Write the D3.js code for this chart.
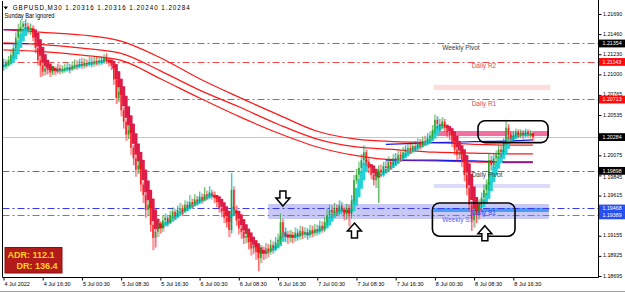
<!DOCTYPE html>
<html>
<head>
<meta charset="utf-8">
<script src="https://cdn.jsdelivr.net/npm/d3@7"></script>
<style>
  body { margin: 0; background: #fff; }
  svg { display: block; }
  text { font-family: "Liberation Sans", Arial, sans-serif; }
</style>
</head>
<body>
<svg id="chart" width="625" height="294"></svg>
<script>
// GBPUSD M30 bars (open = previous close)
const closes = [
  1.2110,1.2113,1.2116,1.2122,1.2130,1.2142,1.2151,1.2154,1.2158,1.2155,
  1.2151,1.2153,1.2142,1.2130,1.2116,1.2110,1.2103,1.2107,1.2105,1.2102,
  1.2105,1.2104,1.2107,1.2105,1.2106,1.2107,1.2108,1.2106,1.2110,1.2111,
  1.2110,1.2112,1.2111,1.2113,1.2112,1.2114,1.2113,1.2115,1.2114,1.2116,
  1.2115,1.2119,1.2116,1.2114,1.2110,1.2094,1.2073,1.2080,1.2059,1.2046,
  1.2031,1.2036,1.2016,1.2004,1.1991,1.1996,1.1974,1.1962,1.1945,1.1951,
  1.1928,1.1913,1.1920,1.1928,1.1924,1.1933,1.1936,1.1931,1.1939,1.1943,
  1.1938,1.1945,1.1947,1.1944,1.1951,1.1948,1.1954,1.1952,1.1957,1.1955,
  1.1960,1.1957,1.1963,1.1961,1.1965,1.1962,1.1959,1.1954,1.1947,1.1943,
  1.1936,1.1931,1.1922,1.1968,1.1945,1.1933,1.1924,1.1920,1.1913,1.1915,
  1.1908,1.1901,1.1905,1.1897,1.1890,1.1899,1.1895,1.1901,1.1898,1.1905,
  1.1901,1.1908,1.1911,1.1931,1.1920,1.1915,1.1913,1.1916,1.1913,1.1919,
  1.1915,1.1921,1.1918,1.1920,1.1916,1.1922,1.1919,1.1923,1.1921,1.1927,
  1.1924,1.1931,1.1939,1.1945,1.1942,1.1947,1.1943,1.1950,1.1945,1.1940,
  1.1947,1.1940,1.1956,1.1979,1.1985,1.1993,1.2002,1.2011,1.2000,1.1993,
  1.1985,1.1979,1.1984,1.1991,1.1988,1.1995,1.1993,1.2000,1.1997,1.2004,
  1.2002,1.2008,1.2006,1.2011,1.2014,1.2016,1.2014,1.2018,1.2017,1.2022,
  1.2019,1.2024,1.2023,1.2027,1.2030,1.2036,1.2048,1.2043,1.2041,1.2046,
  1.2039,1.2034,1.2031,1.2023,1.2014,1.2008,1.2011,1.2000,1.1985,1.1970,
  1.1951,1.1933,1.1943,1.1939,1.1951,1.1959,1.1968,1.1974,1.2002,1.1996,
  1.2004,1.2008,1.2014,1.2011,1.2022,1.2039,1.2031,1.2027,1.2030,1.2034,
  1.2031,1.2033,1.2031,1.2034,1.2032,1.2032,1.2028
];
const highs = [
  1.2118,1.2117,1.2121,1.2127,1.2136,1.2148,1.2158,1.2162,1.2161,1.2163,
  1.2159,1.2158,1.2156,1.2146,1.2133,1.2122,1.2114,1.2112,1.2111,1.2109,
  1.2110,1.2109,1.2112,1.2111,1.2110,1.2112,1.2114,1.2112,1.2115,1.2117,
  1.2116,1.2118,1.2119,1.2118,1.2117,1.2120,1.2119,1.2121,1.2120,1.2121,
  1.2120,1.2123,1.2124,1.2119,1.2117,1.2113,1.2097,1.2086,1.2083,1.2062,
  1.2049,1.2042,1.2039,1.2019,1.2007,1.2002,1.1999,1.1977,1.1965,1.1957,
  1.1954,1.1931,1.1926,1.1933,1.1932,1.1938,1.1941,1.1939,1.1944,1.1948,
  1.1946,1.1950,1.1953,1.1951,1.1956,1.1955,1.1962,1.1958,1.1963,1.1961,
  1.1966,1.1964,1.1971,1.1967,1.1972,1.1968,1.1966,1.1962,1.1957,1.1950,
  1.1946,1.1940,1.1934,1.1987,1.1972,1.1950,1.1937,1.1929,1.1925,1.1922,
  1.1919,1.1912,1.1911,1.1909,1.1902,1.1905,1.1903,1.1907,1.1906,1.1911,
  1.1909,1.1914,1.1918,1.1941,1.1935,1.1925,1.1921,1.1922,1.1920,1.1925,
  1.1923,1.1927,1.1926,1.1925,1.1924,1.1928,1.1927,1.1929,1.1928,1.1933,
  1.1932,1.1937,1.1946,1.1951,1.1950,1.1953,1.1951,1.1956,1.1954,1.1948,
  1.1952,1.1951,1.1962,1.1985,1.1992,1.2000,1.2009,1.2019,1.2014,1.2004,
  1.1997,1.1990,1.1990,1.1996,1.1997,1.2000,1.2001,1.2006,1.2004,1.2009,
  1.2010,1.2013,1.2012,1.2017,1.2019,1.2022,1.2021,1.2023,1.2024,1.2027,
  1.2026,1.2029,1.2030,1.2033,1.2035,1.2042,1.2054,1.2052,1.2049,1.2051,
  1.2049,1.2043,1.2038,1.2034,1.2026,1.2018,1.2017,1.2014,1.2003,1.1988,
  1.1973,1.1955,1.1948,1.1950,1.1957,1.1965,1.1974,1.1980,1.2009,1.2007,
  1.2010,1.2013,1.2019,1.2018,1.2027,1.2048,1.2043,1.2035,1.2035,1.2038,
  1.2037,1.2037,1.2036,1.2038,1.2037,1.2036,1.2032
];
const lows = [
  1.2104,1.2106,1.2109,1.2112,1.2119,1.2127,1.2139,1.2146,1.2149,1.2150,
  1.2146,1.2145,1.2138,1.2124,1.2110,1.2097,1.2098,1.2099,1.2100,1.2097,
  1.2099,1.2099,1.2101,1.2100,1.2101,1.2102,1.2103,1.2101,1.2104,1.2106,
  1.2105,1.2107,1.2106,1.2107,1.2108,1.2109,1.2108,1.2109,1.2110,1.2110,
  1.2111,1.2112,1.2112,1.2109,1.2105,1.2088,1.2066,1.2068,1.2052,1.2038,
  1.2024,1.2026,1.2008,1.1996,1.1983,1.1986,1.1966,1.1953,1.1936,1.1938,
  1.1920,1.1899,1.1902,1.1914,1.1918,1.1920,1.1928,1.1926,1.1929,1.1935,
  1.1933,1.1936,1.1941,1.1939,1.1942,1.1944,1.1946,1.1947,1.1949,1.1950,
  1.1952,1.1952,1.1955,1.1956,1.1958,1.1957,1.1953,1.1948,1.1942,1.1937,
  1.1930,1.1925,1.1914,1.1918,1.1938,1.1927,1.1917,1.1912,1.1906,1.1907,
  1.1900,1.1893,1.1895,1.1888,1.1875,1.1884,1.1888,1.1889,1.1891,1.1894,
  1.1895,1.1898,1.1902,1.1906,1.1914,1.1908,1.1906,1.1908,1.1907,1.1909,
  1.1910,1.1911,1.1912,1.1913,1.1911,1.1913,1.1914,1.1915,1.1916,1.1917,
  1.1919,1.1920,1.1927,1.1935,1.1936,1.1938,1.1938,1.1939,1.1940,1.1933,
  1.1934,1.1926,1.1935,1.1952,1.1975,1.1980,1.1988,1.1997,1.1995,1.1987,
  1.1980,1.1973,1.1970,1.1953,1.1982,1.1983,1.1987,1.1988,1.1991,1.1993,
  1.1996,1.1998,1.2000,1.2002,1.2006,1.2009,1.2009,1.2010,1.2012,1.2013,
  1.2014,1.2016,1.2018,1.2019,1.2022,1.2026,1.2032,1.2038,1.2035,1.2037,
  1.2034,1.2028,1.2025,1.2017,1.2008,1.2001,1.2003,1.1994,1.1978,1.1962,
  1.1944,1.1921,1.1925,1.1930,1.1934,1.1946,1.1953,1.1962,1.1967,1.1990,
  1.1993,1.1999,1.2004,1.2005,1.2008,1.2019,1.2026,1.2022,1.2023,1.2026,
  1.2027,1.2027,1.2026,1.2028,1.2028,1.2027,1.2024
];

// time axis
const timeTicks = [0, 16, 32, 48, 64, 80, 96, 112, 128, 144, 160, 176, 192, 208];
const timeLabels = ["4 Jul 2022", "4 Jul 16:30", "5 Jul 00:30", "5 Jul 08:30", "5 Jul 16:30",
  "6 Jul 00:30", "6 Jul 08:30", "6 Jul 16:30", "7 Jul 00:30", "7 Jul 08:30", "7 Jul 16:30",
  "8 Jul 00:30", "8 Jul 08:30", "8 Jul 16:30"];

// price axis (labels under the price tags are hidden in the original)
const priceTicks = [1.21690, 1.21460, 1.21230, 1.21000, 1.20765, 1.20535,
  1.20075, 1.19845, 1.19615, 1.19155, 1.18925, 1.18695];

// moving average envelopes (sampled at bar indices)
const maIdx = [0, 16, 32, 48, 64, 80, 96, 112, 128, 144, 160, 176, 192, 208, 216];
const maTop = [1.2151, 1.2148, 1.2145, 1.2138, 1.2119, 1.2095, 1.2074, 1.2054, 1.2035, 1.2026, 1.2023, 1.2022, 1.2020, 1.2019, 1.2019];
const maMid = [1.2136, 1.2134, 1.2130, 1.2124, 1.2104, 1.2082, 1.2063, 1.2043, 1.2026, 1.2017, 1.2014, 1.2011, 1.2010, 1.2009, 1.2009];
const maLow = [1.2128, 1.2126, 1.2122, 1.2116, 1.2095, 1.2073, 1.2052, 1.2033, 1.2017, 1.2007, 1.2002, 1.2001, 1.2000, 1.1999, 1.1999];
const blueIdx = [156, 176, 192, 208, 216];
const blueUp = [1.2020, 1.2022, 1.2023, 1.2024, 1.2025];
const blueDn = [1.2002, 1.2002, 1.2001, 1.2000, 1.2000];
const blueLeftIdx = [0, 10];
const blueLeftA = [1.2151, 1.2151];
const blueLeftB = [1.2135, 1.2135];

// pivot levels
const levelNames = ["Weekly Pivot", "Daily R2", "Daily R1", "Daily Pivot", "Daily S1", "Weekly S1"];
const levelPrices = [1.21354, 1.21143, 1.20713, 1.19898, 1.19468, 1.19389];
const lastPrice = 1.20284;

// zones (bar index span, price span)
const zoneStart = [175.5, 175.5, 175.5, 108, 175.5];
const zoneEnd = [223, 222.5, 223, 222.5, 222.5];
const zoneTop = [1.2088, 1.20353, 1.19747, 1.19518, 1.19473];
const zoneBottom = [1.2082, 1.20295, 1.19701, 1.19347, 1.19427];

// hand drawn marks
const boxStart = [193.6, 175];
const boxEnd = [222.2, 208.7];
const boxTop = [1.2047, 1.1953];
const boxBottom = [1.2022, 1.1915];
const arrowIdx = [114, 143.2, 196.4];
const arrowTip = [1.19495, 1.1930, 1.1927];
const arrowDir = ["down", "up", "up"];

const adrLabels = ["ADR: 112.1", "DR: 136.4"];
const header = "GBPUSD,M30  1.20316 1.20316 1.20240 1.20284";
const subHeader = "Sunday Bar ignored";

const svg = d3.select("#chart");
const plot = { left: 2.5, right: 598.5, top: 1, bottom: 277.5 };

const x = d3.scaleLinear().domain([0, 208]).range([3.5, 513.3]);
const y = d3.scaleLinear().domain([1.18695, 1.21690]).range([276, 14]);

svg.append("defs").append("clipPath").attr("id", "clip")
  .append("rect")
  .attr("x", plot.left).attr("y", plot.top)
  .attr("width", plot.right - plot.left).attr("height", plot.bottom - plot.top);

const g = svg.append("g").attr("clip-path", "url(#clip)");

// zones
const zoneColors = ["#ffdcdc", "#f2709f", "#dcdcfa", "#c8c8f6", "#4a9cf0"];
g.selectAll("rect.zone")
  .data(zoneTop.map((d, i) => i))
  .join("rect")
  .attr("x", i => x(zoneStart[i]))
  .attr("width", i => x(zoneEnd[i]) - x(zoneStart[i]))
  .attr("y", i => y(zoneTop[i]))
  .attr("height", i => y(zoneBottom[i]) - y(zoneTop[i]))
  .attr("fill", (i) => zoneColors[i]);

// bid line
g.append("line")
  .attr("x1", plot.left).attr("x2", plot.right)
  .attr("y1", Math.round(y(lastPrice)) + 0.5).attr("y2", Math.round(y(lastPrice)) + 0.5)
  .attr("stroke", "#c8c8c8");

// pivot lines
const levelColors = ["#7a7a7a", "#f04848", "#f04848", "#6e6e6e", "#3838f0", "#7070f0"];
g.selectAll("line.level")
  .data(levelPrices)
  .join("line")
  .attr("x1", plot.left).attr("x2", plot.right)
  .attr("y1", d => Math.round(y(d)) + 0.5).attr("y2", d => Math.round(y(d)) + 0.5)
  .attr("stroke", (d, i) => levelColors[i])
  .attr("stroke-dasharray", "7,3,2,3");

// bars
const bars = closes.map((c, i) => ({
  i, o: i ? closes[i - 1] : c, h: highs[i], l: lows[i], c
}));

// smoothed heiken ashi
function ema(a, n) {
  const k = 2 / (n + 1), out = [a[0]];
  for (let i = 1; i < a.length; i++) out.push(out[i - 1] + k * (a[i] - out[i - 1]));
  return out;
}
const mo = ema(bars.map(d => d.o), 3), mc = ema(bars.map(d => d.c), 3);
const mh = ema(bars.map(d => d.h), 3), ml = ema(bars.map(d => d.l), 3);
const ha = [];
bars.forEach((d, i) => {
  const hc = (mo[i] + mc[i] + mh[i] + ml[i]) / 4;
  const ho = i ? (ha[i - 1].ho + ha[i - 1].hc) / 2 : (mo[i] + mc[i]) / 2;
  ha.push({ i, ho, hc, hh: Math.max(d.h, ho, hc), hl: Math.min(d.l, ho, hc) });
});

// pale HA wicks
g.selectAll("line.hawick")
  .data(ha)
  .join("line")
  .attr("x1", d => x(d.i) + 1.2).attr("x2", d => x(d.i) + 1.2)
  .attr("y1", d => y(d.hh)).attr("y2", d => y(d.hl))
  .attr("stroke", d => d.hc < d.ho ? "#f7a8b8" : "#a8e8ee")
  .attr("stroke-width", 1);

// moving averages
const maLine = idx => d3.line().x((d, i) => x(idx[i])).y(d => y(d)).curve(d3.curveMonotoneX);
[maTop, maMid, maLow].forEach(s => {
  g.append("path").attr("d", maLine(maIdx)(s))
    .attr("fill", "none").attr("stroke", "#ff1a1a").attr("stroke-width", 1.2);
});
[blueUp, blueDn].forEach(s => {
  g.append("path").attr("d", maLine(blueIdx)(s))
    .attr("fill", "none").attr("stroke", "#1a1ae6").attr("stroke-width", 1.2);
});
[blueLeftA, blueLeftB].forEach(s => {
  g.append("path").attr("d", maLine(blueLeftIdx)(s))
    .attr("fill", "none").attr("stroke", "#1a1ae6").attr("stroke-width", 1.2);
});

// HA bodies
g.selectAll("rect.ha")
  .data(ha)
  .join("rect")
  .attr("x", d => x(d.i) - 1.5)
  .attr("width", 3)
  .attr("y", d => y(Math.max(d.ho, d.hc)) - 0.5)
  .attr("height", d => Math.max(2.5, y(Math.min(d.ho, d.hc)) - y(Math.max(d.ho, d.hc)) + 1))
  .attr("fill", d => d.hc < d.ho ? "#dc1c48" : "#22d2d6");

// candles
const up = "#1f9a1f", dn = "#ff1010";
g.selectAll("line.wick")
  .data(bars)
  .join("line")
  .attr("x1", d => x(d.i)).attr("x2", d => x(d.i))
  .attr("y1", d => y(Math.max(d.h, d.o, d.c))).attr("y2", d => y(Math.min(d.l, d.o, d.c)))
  .attr("stroke", d => d.c >= d.o ? up : dn)
  .attr("stroke-width", 0.8)
  .attr("stroke-opacity", 0.85);
g.selectAll("rect.body")
  .data(bars)
  .join("rect")
  .attr("x", d => x(d.i) - 0.8)
  .attr("width", 1.6)
  .attr("y", d => y(Math.max(d.o, d.c)))
  .attr("height", d => Math.max(1, y(Math.min(d.o, d.c)) - y(Math.max(d.o, d.c))))
  .attr("fill", d => d.c >= d.o ? up : dn)
  .attr("fill-opacity", 0.85);

// level labels
const labelAt = [179, 191, 191, 191, 191, 179];
const labelColors = ["#404040", "#e84848", "#e84848", "#404040", "#3c3cf0", "#5c5cf0"];
g.selectAll("text.level")
  .data(levelNames)
  .join("text")
  .attr("x", (d, i) => x(labelAt[i]))
  .attr("y", (d, i) => y(levelPrices[i]) + 6.5)
  .attr("font-size", 6.5)
  .attr("fill", (d, i) => labelColors[i])
  .text(d => d);

// rounded boxes
g.selectAll("rect.note")
  .data(boxStart)
  .join("rect")
  .attr("x", (d, i) => x(boxStart[i]))
  .attr("width", (d, i) => x(boxEnd[i]) - x(boxStart[i]))
  .attr("y", (d, i) => y(boxTop[i]))
  .attr("height", (d, i) => y(boxBottom[i]) - y(boxTop[i]))
  .attr("rx", 7)
  .attr("fill", "none").attr("stroke", "#000").attr("stroke-width", 1.6);

// block arrows
function arrowPath(cx, tip, dir) {
  const s = dir === "up" ? 1 : -1;
  const pts = [[0, 0], [7, 8], [3, 8], [3, 15], [-3, 15], [-3, 8], [-7, 8]];
  return "M" + pts.map(p => [cx + p[0], tip + s * p[1]].join(",")).join("L") + "Z";
}
g.selectAll("path.arrow")
  .data(arrowIdx)
  .join("path")
  .attr("d", (d, i) => arrowPath(x(d), y(arrowTip[i]), arrowDir[i]))
  .attr("fill", "#fff").attr("stroke", "#000").attr("stroke-width", 1.5)
  .attr("stroke-linejoin", "miter");

// frame
svg.append("line").attr("x1", plot.left).attr("x2", plot.left).attr("y1", plot.top).attr("y2", plot.bottom).attr("stroke", "#000");
svg.append("line").attr("x1", plot.left).attr("x2", plot.right).attr("y1", plot.bottom).attr("y2", plot.bottom).attr("stroke", "#000");
svg.append("line").attr("x1", plot.right).attr("x2", plot.right).attr("y1", 0).attr("y2", plot.bottom).attr("stroke", "#000");

// price tags
const tagPrices = levelPrices.concat([lastPrice]);
const tagColors = ["#000", "#ff0a0a", "#ff0a0a", "#000", "#2850f0", "#2850f0", "#000"];

// price axis; a label sitting just under a tag is pushed below it
const ay = svg.append("g")
  .attr("transform", `translate(${plot.right},0)`)
  .call(d3.axisRight(y).tickValues(priceTicks).tickSize(3).tickFormat(d3.format(".5f")));
ay.select(".domain").remove();
ay.selectAll("text")
  .attr("x", 4.5)
  .attr("dy", d => tagPrices.some(p => y(d) - y(p) > 0 && y(d) - y(p) < 6) ? "0.6em" : "0.2em")
  .attr("font-size", 5.3)
  .attr("font-family", "Liberation Sans, Arial, sans-serif").attr("fill", "#000");

const tags = svg.append("g");
tags.selectAll("rect")
  .data(tagPrices)
  .join("rect")
  .attr("x", plot.right + 0.5).attr("width", 26)
  .attr("y", d => y(d) - 3.8).attr("height", 7.8)
  .attr("fill", (d, i) => tagColors[i]);
tags.selectAll("text")
  .data(tagPrices)
  .join("text")
  .attr("x", plot.right + 4).attr("y", d => y(d)).attr("dy", "0.34em")
  .attr("font-size", 5.3).attr("fill", "#fff")
  .text(d => d3.format(".5f")(d));

// time axis
const ax = svg.append("g")
  .attr("transform", `translate(0,${plot.bottom})`)
  .call(d3.axisBottom(x).tickValues(timeTicks).tickSize(3).tickFormat((d, i) => timeLabels[i]));
ax.select(".domain").remove();
ax.selectAll("text").attr("text-anchor", "start").attr("x", 0.5).attr("y", 5)
  .attr("font-size", 5.5).attr("font-family", "Liberation Sans, Arial, sans-serif").attr("fill", "#000");

// header
svg.append("path").attr("d", "M3.5,6.5L8,6.5L5.75,9.5Z").attr("fill", "#000");
svg.append("text").attr("x", 12.7).attr("y", 9.8).attr("font-size", 6.3)
  .attr("textLength", 177).attr("lengthAdjust", "spacing").text(header);
svg.append("text").attr("x", 4.5).attr("y", 18.2).attr("font-size", 6.3)
  .attr("textLength", 50).attr("lengthAdjust", "spacingAndGlyphs").text(subHeader);

// ADR box
svg.append("rect").attr("x", 5).attr("y", 247.5).attr("width", 57).attr("height", 25.5)
  .attr("fill", "#b31b1b").attr("stroke", "#8a1010");
svg.selectAll("text.adr")
  .data(adrLabels)
  .join("text")
  .attr("x", (d, i) => i ? 16.5 : 7.5)
  .attr("y", (d, i) => 258.3 + i * 11)
  .attr("font-size", 9).attr("font-weight", "bold").attr("fill", "#ffd21a")
  .text(d => d);

// tab strip
svg.append("line").attr("x1", 0).attr("x2", 625).attr("y1", 291.5).attr("y2", 291.5).attr("stroke", "#a0a0a0");
</script>
</body>
</html>
